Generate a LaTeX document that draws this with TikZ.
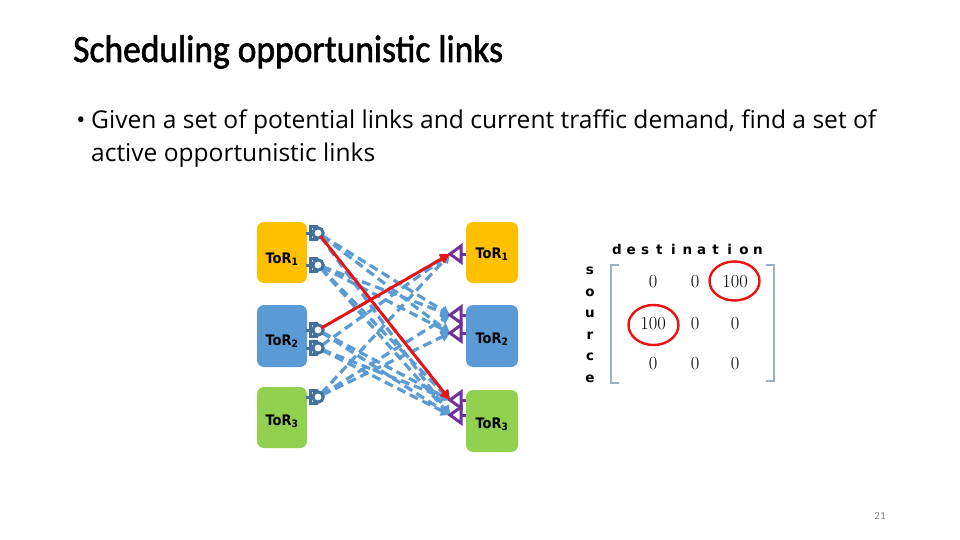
\documentclass[tikz,border=0pt]{standalone}
\usepackage{fontspec}
\usepackage{graphicx}
\newfontfamily\osfont{Open Sans}
\newfontfamily\titlefont[FakeBold=1.6]{Carlito}
\newfontfamily\pagefont{Carlito}
\newfontfamily\torfont{DejaVu Sans Condensed}
\newfontfamily\lblfont{DejaVu Sans}
\usetikzlibrary{arrows.meta}
\definecolor{torY}{HTML}{FFC000}
\definecolor{torB}{HTML}{5B9BD5}
\definecolor{torG}{HTML}{92D050}
\definecolor{devc}{HTML}{41719C}
\definecolor{rxc}{HTML}{7030A0}
\definecolor{dashc}{HTML}{5B9BD5}
\definecolor{redc}{HTML}{EE1111}
\definecolor{brk}{HTML}{9AB0C6}
\definecolor{pgnum}{HTML}{8C8C8C}
\tikzset{
  torbox/.style={rounded corners=7pt, inner sep=0pt, minimum height=61pt},
  tortext/.style={inner sep=0pt, anchor=base,
    font=\torfont\bfseries\fontsize{14.5}{16}\selectfont, text=black},
  txdev/.pic={
    \draw[devc, line width=3pt] (-12,0) -- (-7,0);
    \draw[devc, line width=3pt] (0,-6.5) -- (-7.5,-6.5) -- (-7.5,6.5) -- (0,6.5);
    \draw[devc, line width=3pt, fill=white] (0,0) circle[radius=5.2pt];
  },
  rxdev/.pic={
    \draw[rxc, line width=3pt] (11,0) -- (16,0);
    \draw[rxc, line width=3pt, fill=white, line join=miter] (0,0) -- (11,-8) -- (11,8) -- cycle;
  },
  dashlink/.style={dashc, line width=3.2pt, dash pattern=on 9pt off 5pt,
    -{Triangle[length=9pt,width=10pt]}},
  redlink/.style={redc, line width=2.8pt, shorten <=4pt,
    -{Triangle[length=10pt,width=10pt]}},
  lbl/.style={inner sep=0pt, anchor=base, font=\lblfont\bfseries\fontsize{13.5}{14}\selectfont},
  ent/.style={inner sep=0pt, anchor=base, font=\fontsize{18.5}{20}\selectfont},
  ring/.style={redc, line width=2.4pt},
}
\begin{document}
\begin{tikzpicture}[x=1pt,y=-1pt]
\useasboundingbox (0,0) rectangle (960,540);
\fill[white] (0,0) rectangle (960,540);

% title and bullet text
\node[anchor=base west, inner sep=0pt] (title) at (73,62)
  {\resizebox{430pt}{\height}{\titlefont\fontsize{38.5}{40}\selectfont Scheduling opportunistic links}};
\node[anchor=base, inner sep=0pt] (bullet) at (81,129)
  {\osfont\fontsize{24}{26}\selectfont •};
\node[anchor=base west, inner sep=0pt] (line1) at (91,129)
  {\resizebox{785pt}{\height}{\osfont\fontsize{24.5}{26}\selectfont Given a set of potential links and current traffic demand, find a set of}};
\node[anchor=base west, inner sep=0pt] (line2) at (91,161)
  {\resizebox{284pt}{\height}{\osfont\fontsize{24.5}{26}\selectfont active opportunistic links}};

% ToR boxes
\node[torbox, fill=torY, minimum width=50pt] (L1) at (282,252.5) {};
\node[torbox, fill=torB, minimum width=50pt, minimum height=62pt] (L2) at (282,336) {};
\node[torbox, fill=torG, minimum width=50pt] (L3) at (282,417.5) {};
\node[torbox, fill=torY, minimum width=52pt] (R1) at (492,252.5) {};
\node[torbox, fill=torB, minimum width=52pt, minimum height=62pt] (R2) at (492,336) {};
\node[torbox, fill=torG, minimum width=52pt, minimum height=62pt] (R3) at (492,421) {};
\node[tortext] (L1t) at (282,263) {ToR\textsubscript{1}};
\node[tortext] (L2t) at (282,345) {ToR\textsubscript{2}};
\node[tortext] (L3t) at (282,425) {ToR\textsubscript{3}};
\node[tortext] (R1t) at (492,258) {ToR\textsubscript{1}};
\node[tortext] (R2t) at (492,343) {ToR\textsubscript{2}};
\node[tortext] (R3t) at (492,428) {ToR\textsubscript{3}};

% transmitter / receiver positions
\coordinate (t1a) at (318,233);
\coordinate (t1b) at (318,265);
\coordinate (t2a) at (318,330);
\coordinate (t2b) at (318,348);
\coordinate (t3) at (318,397);
\coordinate (r1) at (450,254);
\coordinate (r2a) at (450,315);
\coordinate (r2b) at (450,333);
\coordinate (r3a) at (450,400);
\coordinate (r3b) at (450,415);

% potential links
\foreach \s/\t in {t1a/r2a,t1a/r2b,t1a/r3a,t1a/r3b,
                   t1b/r2a,t1b/r2b,t1b/r3a,t1b/r3b,
                   t2a/r1,t2a/r3a,t2a/r3b,
                   t2b/r1,t2b/r3a,t2b/r3b,
                   t3/r1,t3/r2a,t3/r2b}
  \draw[dashlink, shorten <=5pt] (\s) -- (\t);

% devices
\foreach \p in {t1a,t1b,t2a,t2b,t3} \pic at (\p) {txdev};
\foreach \p in {r1,r2a,r2b,r3a,r3b} \pic at (\p) {rxdev};

% active links
\draw[redlink] (t1a) -- (r3a);
\draw[redlink] (t2a) -- (r1);

% matrix
\foreach \c [count=\i] in {d,e,s,t,i,n,a,t,i,o,n}
  \node[lbl] (dst\i) at ({617+(\i-1)*14.1},254.5) {\c};
\foreach \c [count=\i] in {s,o,u,r,c,e}
  \node[lbl] (src\i) at ({590},{274.5+(\i-1)*21.6}) {\c};
\draw[brk, line width=1.4pt] (619,265) -- (611,265) -- (611,383) -- (619,383);
\draw[brk, line width=1.4pt] (766,265) -- (774,265) -- (774,381) -- (766,381);
\node[ent] (m11) at (653,287) {0};
\node[ent] (m12) at (695,287) {0};
\node[ent] (m13) at (735,287) {100};
\node[ent] (m21) at (653,329) {100};
\node[ent] (m22) at (695,329) {0};
\node[ent] (m23) at (735,329) {0};
\node[ent] (m31) at (653,369) {0};
\node[ent] (m32) at (695,369) {0};
\node[ent] (m33) at (735,369) {0};
\draw[ring] (734.5,281) ellipse[x radius=25pt, y radius=19.5pt];
\draw[ring] (653.5,325) ellipse[x radius=25pt, y radius=20pt];

% page number
\node[anchor=base, inner sep=0pt, text=pgnum] (page) at (880,519)
  {\pagefont\fontsize{11}{12}\selectfont 21};
\end{tikzpicture}
\end{document}
